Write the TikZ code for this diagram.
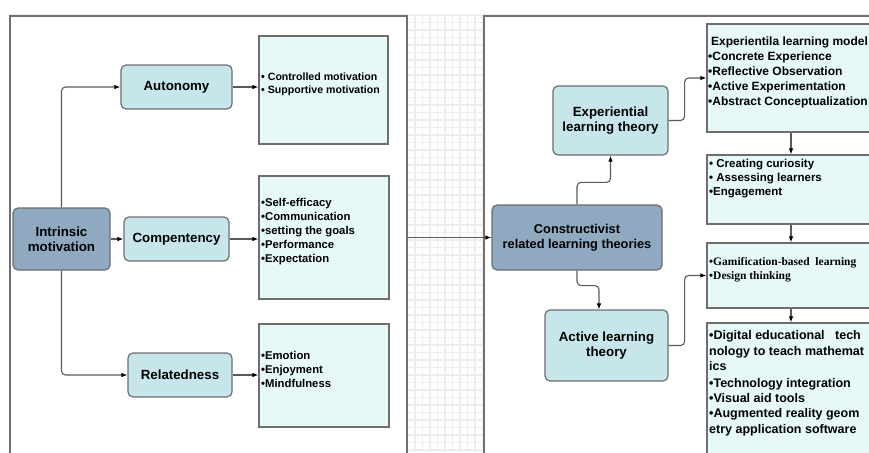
\documentclass[tikz,border=0pt]{standalone}
\usepackage{fontspec}
\setmainfont{Liberation Sans}
\newfontfamily\timesfont{Liberation Serif}
\usetikzlibrary{arrows.meta,calc}

\definecolor{gridc}{HTML}{EDEDED}
\definecolor{panelc}{HTML}{707070}
\definecolor{edgec}{HTML}{6E6E6E}
\definecolor{linec}{HTML}{5A5A5A}
\definecolor{darkc}{HTML}{8EA9C0}
\definecolor{lightc}{HTML}{C6E6EB}
\definecolor{boxc}{HTML}{E6F8F8}

\tikzset{
  panel/.style={draw=panelc, fill=white, line width=1.3, inner sep=0},
  basebox/.style={draw=edgec, line width=1.2, rounded corners=5, align=center,
    inner sep=2, font=\bfseries\fontsize{13.3}{14.5}\selectfont},
  darkbox/.style={basebox, fill=darkc},
  lightbox/.style={basebox, fill=lightc, font=\bfseries\fontsize{13.3}{15}\selectfont},
  listbox/.style={draw=edgec, fill=boxc, line width=1.2, inner sep=0},
  listtext/.style={anchor=north west, inner sep=0, align=left},
  gridline/.style={draw=gridc, line width=1.2},
  link/.style={draw=linec, line width=1.1, rounded corners=4,
    -{Latex[length=6,width=4.5,color=black]}},
}

\begin{document}
\begin{tikzpicture}[x=1pt, y=-1pt]
\useasboundingbox (0,0) rectangle (869,452);
\clip (0,0) rectangle (869,452);

% canvas grid
\foreach \gx in {10,17.5,...,870} \draw[gridline] (\gx,15) -- (\gx,452);
\foreach \gy in {15,22.5,...,453} \draw[gridline] (10,\gy) -- (869,\gy);

% the two panels
\node[panel, minimum width=397, minimum height=464] (lp) at (208.5,248) {};
\node[panel, minimum width=420, minimum height=464] (rp) at (694,248) {};

% ---- left panel: intrinsic motivation ----
\node[darkbox, minimum width=97, minimum height=62] (intr) at (61.5,239) {Intrinsic\\motivation};
\node[lightbox, minimum width=111, minimum height=44] (auto) at (176.5,87) {Autonomy};
\node[lightbox, minimum width=105, minimum height=44] (comp) at (176.5,239) {Compentency};
\node[lightbox, minimum width=104, minimum height=44] (rel) at (180,375) {Relatedness};

\node[listbox, minimum width=129, minimum height=108] (b1) at (323.5,90) {};
\node[listbox, minimum width=130, minimum height=123] (b2) at (324,237.5) {};
\node[listbox, minimum width=130, minimum height=103] (b3) at (324,375.5) {};

\node[listtext, font=\bfseries\fontsize{10.6}{13}\selectfont] (b1t) at (261,73)
  {• Controlled motivation\\• Supportive motivation};
\node[listtext, font=\bfseries\fontsize{11.3}{14}\selectfont] (b2t) at (261,198.5)
  {•Self-efficacy\\•Communication\\•setting the goals\\•Performance\\•Expectation};
\node[listtext, font=\bfseries\fontsize{11.3}{14}\selectfont] (b3t) at (261,351)
  {•Emotion\\•Enjoyment\\•Mindfulness};

\draw[link] (intr.north) |- (auto.west);
\draw[link] (intr.east) -- (comp.west);
\draw[link] (intr.south) |- (rel.west);
\draw[link] (auto.east) -- (b1.west |- auto.east);
\draw[link] (comp.east) -- (b2.west |- comp.east);
\draw[link] (rel.east) -- (b3.west |- rel.east);

% ---- right panel: constructivist theories ----
\node[darkbox, minimum width=170, minimum height=65, font=\bfseries\fontsize{12.8}{14.5}\selectfont] (cons) at (577,237.5)
  {Constructivist\\related learning theories};
\node[lightbox, minimum width=115, minimum height=69] (exp) at (610.5,120.5) {Experiential\\learning theory};
\node[lightbox, minimum width=123, minimum height=71] (act) at (606.5,345.5) {Active learning\\theory};

\node[listbox, minimum width=168, minimum height=108] (r1) at (791,78) {};
\node[listbox, minimum width=168, minimum height=69] (r2) at (791,189.5) {};
\node[listbox, minimum width=168, minimum height=65] (r3) at (791,275.5) {};
\node[listbox, minimum width=168, minimum height=147] (r4) at (791,396.5) {};

\node[listtext, font=\bfseries\fontsize{12}{15}\selectfont] (r1t) at (708,36.5)
  {\hspace*{3pt}Experientila learning model\\•Concrete Experience\\•Reflective Observation\\•Active Experimentation\\•Abstract Conceptualization};
\node[listtext, font=\bfseries\fontsize{11.5}{14}\selectfont] (r2t) at (709,158.5)
  {• Creating curiosity\\• Assessing learners\\•Engagement};
\node[listtext, font=\timesfont\bfseries\fontsize{11.5}{14}\selectfont] (r3t) at (709,257.5)
  {•Gamification-based\ \ learning\\•Design thinking};
\node[listtext, font=\bfseries\fontsize{12.5}{15.3}\selectfont] (r4t) at (709,330.5)
  {•Digital educational\ \ \ tech\\nology to teach mathemat\\ics\\[1.5pt]•Technology integration\\•Visual aid tools\\•Augmented reality geom\\etry application software};

\draw[link] (lp.east |- cons.west) -- (cons.west);
\draw[link] (cons.north) -- ++(0,-22) -| (exp.south);
\draw[link] (cons.south) -- ++(0,15) -| ([xshift=-7.5pt]act.north);
\draw[link] (exp.east) -- ++(16,0) |- (r1.west);
\draw[link] (act.east) -- ++(16,0) |- (r3.west);
\draw[link] (r1.south) -- (r2.north);
\draw[link] (r2.south) -- (r3.north);
\draw[link] (r3.south) -- (r4.north);
\end{tikzpicture}
\end{document}
